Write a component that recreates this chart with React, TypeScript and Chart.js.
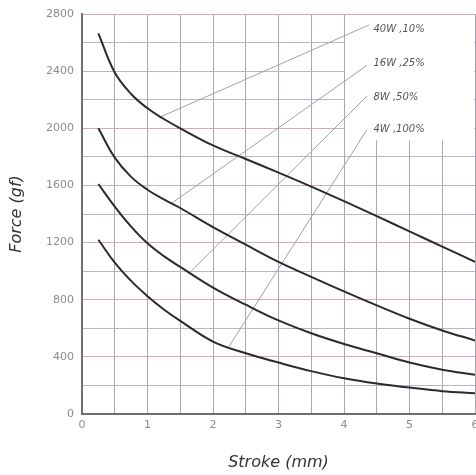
import { useEffect, useRef } from 'react';
import { Chart, registerables } from 'chart.js';

Chart.register(...registerables);

// Stroke positions (mm)
const strokeMm = [0.25, 0.5, 0.75, 1, 1.25, 1.5, 2, 2.5, 3, 3.5, 4, 4.5, 5, 5.5, 6];
// Force (gf) for each curve
const force40W = [2665, 2390, 2240, 2140, 2065, 2000, 1880, 1785, 1690, 1592, 1490, 1385, 1278, 1172, 1065];
const force16W = [2000, 1795, 1660, 1570, 1502, 1442, 1308, 1185, 1065, 960, 858, 760, 667, 585, 515];
const force8W = [1610, 1452, 1312, 1195, 1105, 1030, 885, 765, 655, 565, 490, 425, 360, 310, 275];
const force4W = [1220, 1060, 932, 825, 732, 652, 507, 425, 360, 300, 250, 213, 185, 160, 145];

// Curve annotations
const labelTexts = ['40W ,10%', '16W ,25%', '8W ,50%', '4W ,100%'];
const labelStroke = 4.45;
const labelForce = [2690, 2457, 2213, 1989];
const leaderStartStroke = [1.21, 1.37, 1.65, 2.23];
const leaderStartForce = [2082, 1476, 992, 462];
const leaderEndStroke = [4.38, 4.35, 4.35, 4.35];
const leaderEndForce = [2723, 2440, 2225, 1990];

// Blank legend area (stroke range, force range)
const legendBoxStroke = [4, 6];
const legendBoxForce = [1915, 2800];

// Axes
const xTickLabels = [0, 1, 2, 3, 4, 5, 6];
const yTickLabels = [0, 400, 800, 1200, 1600, 2000, 2400, 2800];

const FONT = "'DejaVu Sans', 'Liberation Sans', sans-serif";

export default function App() {
  const ref = useRef<HTMLCanvasElement>(null);

  useEffect(() => {
    document.body.style.margin = '0';
    const canvas = ref.current;
    if (!canvas) return;

    const curveSets = [force40W, force16W, force8W, force4W].map((arr) => ({
      data: strokeMm.map((x, i) => ({ x, y: arr[i] })),
      borderColor: '#2b2b2b',
      borderWidth: 2,
      pointRadius: 0,
      tension: 0.4,
      fill: false,
    }));

    const leaderSets = labelTexts.map((_, i) => ({
      data: [
        { x: leaderStartStroke[i], y: leaderStartForce[i] },
        { x: leaderEndStroke[i], y: leaderEndForce[i] },
      ],
      borderColor: '#a39eb0',
      borderWidth: 1,
      pointRadius: 0,
      tension: 0,
      fill: false,
    }));

    const annotPlugin = {
      id: 'annot',
      beforeDatasetsDraw(chart: any) {
        const { ctx, scales } = chart;
        const x = scales.x, y = scales.y;
        const x0 = x.getPixelForValue(legendBoxStroke[0]) + 1;
        const x1 = x.getPixelForValue(legendBoxStroke[1]) - 1;
        const y0 = y.getPixelForValue(legendBoxForce[1]) + 1;
        const y1 = y.getPixelForValue(legendBoxForce[0]);
        ctx.save();
        ctx.fillStyle = '#ffffff';
        ctx.fillRect(x0, y0, x1 - x0, y1 - y0);
        ctx.restore();
      },
      afterDatasetsDraw(chart: any) {
        const { ctx, scales } = chart;
        ctx.save();
        ctx.font = `italic 10px ${FONT}`;
        ctx.fillStyle = '#555555';
        ctx.textAlign = 'left';
        ctx.textBaseline = 'middle';
        labelTexts.forEach((t, i) => {
          ctx.fillText(t, scales.x.getPixelForValue(labelStroke), scales.y.getPixelForValue(labelForce[i]));
        });
        ctx.restore();
      },
    };

    const chart = new Chart(canvas, {
      type: 'line',
      data: { datasets: [...curveSets, ...leaderSets] as any },
      options: {
        animation: false,
        responsive: false,
        layout: { padding: { top: 14, right: 1, left: 0, bottom: 0 } },
        plugins: { legend: { display: false }, tooltip: { enabled: false } },
        scales: {
          x: {
            type: 'linear',
            min: 0,
            max: 6,
            ticks: {
              stepSize: 0.5,
              autoSkip: false,
              maxRotation: 0,
              padding: 5,
              color: '#8c8c8c',
              font: { family: FONT, size: 11 },
              callback: (v: any) => (xTickLabels.includes(Number(v)) ? String(v) : ''),
            },
            grid: { color: '#aaa6ba', lineWidth: 1, drawTicks: false },
            border: { color: '#6f6f6f', width: 2 },
            title: {
              display: true,
              text: 'Stroke (mm)',
              color: '#333333',
              font: { family: FONT, size: 16, style: 'italic' },
              padding: { top: 0, bottom: 3 },
            },
            afterFit: (s: any) => {
              s.height = 61;
              s.paddingLeft = 0;
              s.paddingRight = 0;
            },
          },
          y: {
            type: 'linear',
            min: 0,
            max: 2800,
            ticks: {
              stepSize: 200,
              autoSkip: false,
              padding: 8,
              color: '#8c8c8c',
              font: { family: FONT, size: 11 },
              callback: (v: any) => (yTickLabels.includes(Number(v)) ? String(v) : ''),
            },
            grid: {
              color: (c: any) => (c.tick && c.tick.value % 400 === 0 ? '#d6aab9' : '#b3b7c8'),
              lineWidth: 1,
              drawTicks: false,
            },
            border: { color: '#6f6f6f', width: 2 },
            title: {
              display: true,
              text: 'Force (gf)',
              color: '#333333',
              font: { family: FONT, size: 16, style: 'italic' },
              padding: { top: 7, bottom: 0 },
            },
            afterFit: (s: any) => {
              s.width = 82;
              s.paddingTop = 0;
              s.paddingBottom = 0;
            },
          },
        },
      },
      plugins: [annotPlugin],
    });

    return () => chart.destroy();
  }, []);

  return (
    <div style={{ width: 476, height: 475 }}>
      <canvas ref={ref} width={476} height={475} />
    </div>
  );
}
